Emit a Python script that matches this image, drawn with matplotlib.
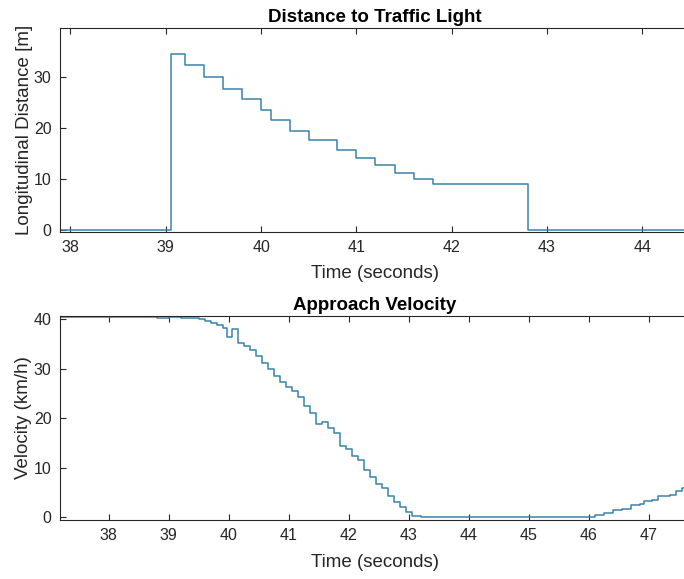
import numpy as np
import matplotlib
matplotlib.use("Agg")
import matplotlib.pyplot as plt

# ---- data ----
# distance to traffic light: step start times [s] and held values [m]
dist_t = [37.85, 39.05, 39.2, 39.4, 39.6, 39.8, 40.0, 40.1, 40.3, 40.5,
          40.8, 41.0, 41.2, 41.4, 41.6, 41.8, 42.8, 44.6]
dist_m = [0.0, 34.6, 32.3, 30.0, 27.7, 25.7, 23.5, 21.5, 19.4, 17.6,
          15.7, 14.2, 12.7, 11.2, 10.0, 9.1, 0.0, 0.0]

# approach velocity: step start times [s] and held values [km/h]
vel_t = [37.15, 38.8, 39.0, 39.2, 39.4, 39.5, 39.6, 39.7, 39.8, 39.9,
         39.97, 40.06, 40.15, 40.25, 40.35, 40.45, 40.55, 40.65, 40.75, 40.85,
         40.95, 41.05, 41.15, 41.25, 41.35, 41.45, 41.55, 41.65, 41.75, 41.85,
         41.95, 42.05, 42.15, 42.25, 42.35, 42.45, 42.55, 42.65, 42.75, 42.85,
         42.95, 43.05, 43.2, 46.1, 46.25, 46.4, 46.55, 46.7, 46.85, 46.93,
         47.05, 47.15, 47.35, 47.45, 47.55, 47.8]
vel_kmh = [40.3, 40.1, 40.3, 40.2, 40.1, 39.9, 39.6, 39.2, 38.7, 38.1,
           36.4, 38.0, 35.2, 34.5, 33.8, 32.6, 31.2, 29.9, 28.5, 27.2,
           26.3, 25.5, 24.2, 22.4, 21.0, 18.9, 19.3, 18.0, 16.9, 14.3,
           13.7, 12.3, 11.5, 9.6, 8.2, 6.7, 5.9, 4.3, 3.0, 2.0,
           1.0, 0.3, 0.0, 0.5, 0.8, 1.4, 1.7, 2.4, 2.7, 3.2,
           3.5, 4.3, 4.5, 5.3, 5.9, 5.9]

dist_ticks_x = [38, 39, 40, 41, 42, 43, 44]
vel_ticks_x = [38, 39, 40, 41, 42, 43, 44, 45, 46, 47]

LINE = "#3a82a8"
AXC = "#262626"

plt.rcParams["font.family"] = ["Liberation Sans", "DejaVu Sans"]

fig = plt.figure(figsize=(6.84, 5.79), dpi=100)
ax1 = fig.add_axes([0.0877, 0.5993, 0.921, 0.3523])
ax2 = fig.add_axes([0.0877, 0.1019, 0.921, 0.3528])


def style(ax):
    for s in ax.spines.values():
        s.set_color(AXC)
        s.set_linewidth(0.8)
    ax.tick_params(direction="in", length=4, width=0.8, colors=AXC,
                   labelsize=11.5, top=True, right=True, pad=6)


ax1.step(dist_t, dist_m, where="post", color=LINE, lw=1.1)
ax1.set_xlim(37.89, 44.50)
ax1.set_ylim(-0.4, 39.6)
ax1.set_xticks(dist_ticks_x)
ax1.set_yticks([0, 10, 20, 30])
ax1.set_title("Distance to Traffic Light", fontsize=13.5, fontweight="bold", pad=4)
ax1.set_xlabel("Time (seconds)", fontsize=13.5, color=AXC, labelpad=7)
ax1.set_ylabel("Longitudinal Distance [m]", fontsize=13.5, color=AXC, labelpad=1)
style(ax1)

ax2.step(vel_t, vel_kmh, where="post", color=LINE, lw=1.1)
ax2.set_xlim(37.19, 47.69)
ax2.set_ylim(-0.55, 40.65)
ax2.set_xticks(vel_ticks_x)
ax2.set_yticks([0, 10, 20, 30, 40])
ax2.set_title("Approach Velocity", fontsize=13.5, fontweight="bold", pad=4)
ax2.set_xlabel("Time (seconds)", fontsize=13.5, color=AXC, labelpad=8)
ax2.set_ylabel("Velocity (km/h)", fontsize=13.5, color=AXC, labelpad=1)
style(ax2)

fig.savefig("out.png", dpi=100, facecolor="white")
